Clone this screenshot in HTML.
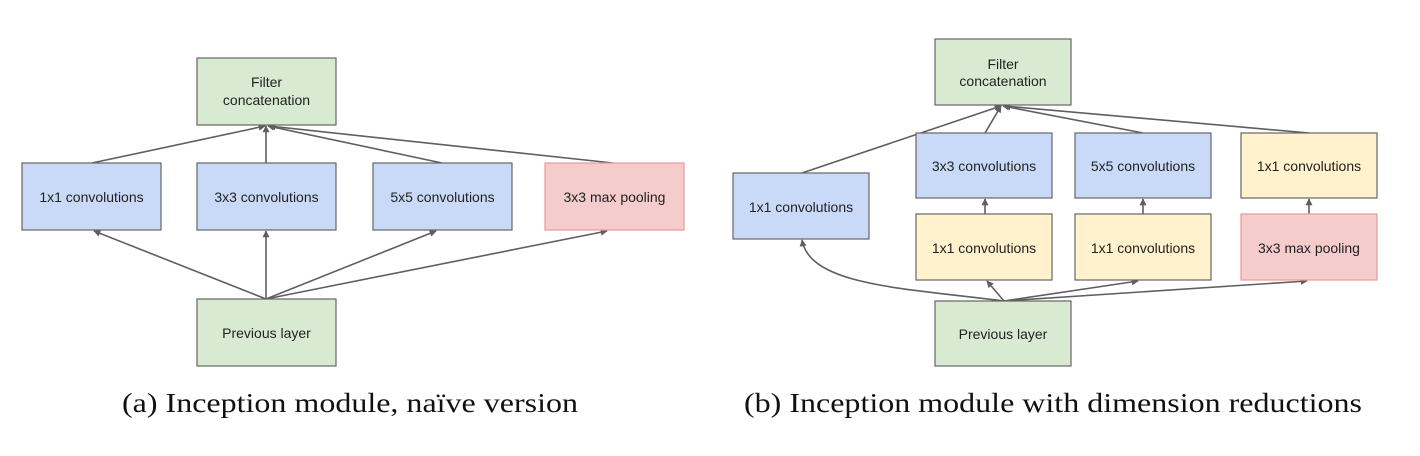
<!DOCTYPE html>
<html><head><meta charset="utf-8"><style>
html,body{margin:0;padding:0;background:#fff;}
svg{display:block;}
.box text{font-family:"Liberation Sans",sans-serif;font-size:14px;fill:#222;text-anchor:middle;}
.ln{stroke:#5f5f5f;stroke-width:1.6;fill:none;}
.cap{font-family:"Liberation Serif",serif;font-size:27px;fill:#111;text-anchor:middle;}
</style></head><body>
<svg width="1420" height="456" viewBox="0 0 1420 456">
<defs>
<marker id="ah" viewBox="0 0 10 10" refX="9" refY="5" markerWidth="7" markerHeight="7" orient="auto-start-reverse" markerUnits="userSpaceOnUse"><path d="M0,0 L10,5 L0,10 z" fill="#5f5f5f"/></marker>
</defs>
<g>
<g>
<line class="ln" x1="92" y1="163" x2="265" y2="126" marker-end="url(#ah)"/>
<line class="ln" x1="266" y1="163" x2="266" y2="126" marker-end="url(#ah)"/>
<line class="ln" x1="442" y1="163" x2="268" y2="126" marker-end="url(#ah)"/>
<line class="ln" x1="613" y1="163" x2="269" y2="126" marker-end="url(#ah)"/>
<line class="ln" x1="266" y1="299" x2="94" y2="231" marker-end="url(#ah)"/>
<line class="ln" x1="266" y1="299" x2="266" y2="231" marker-end="url(#ah)"/>
<line class="ln" x1="266" y1="299" x2="436" y2="231" marker-end="url(#ah)"/>
<line class="ln" x1="266" y1="299" x2="607" y2="231" marker-end="url(#ah)"/>
</g>
<g class="box"><rect x="197" y="58" width="139" height="67" fill="#d9ead3" stroke="#666" stroke-width="1.2"/><text x="266.5" y="87">Filter</text><text x="266.5" y="105">concatenation</text></g>
<g class="box"><rect x="22" y="163" width="139" height="67" fill="#c9daf8" stroke="#666" stroke-width="1.2"/><text x="91.5" y="202">1x1 convolutions</text></g>
<g class="box"><rect x="197" y="163" width="139" height="67" fill="#c9daf8" stroke="#666" stroke-width="1.2"/><text x="266.5" y="202">3x3 convolutions</text></g>
<g class="box"><rect x="373" y="163" width="139" height="67" fill="#c9daf8" stroke="#666" stroke-width="1.2"/><text x="442.5" y="202">5x5 convolutions</text></g>
<g class="box"><rect x="545" y="163" width="139" height="67" fill="#f4cccc" stroke="#ea9999" stroke-width="1.2"/><text x="614.5" y="202">3x3 max pooling</text></g>
<g class="box"><rect x="197" y="299" width="139" height="67" fill="#d9ead3" stroke="#666" stroke-width="1.2"/><text x="266.5" y="338">Previous layer</text></g>
</g>
<g>
<g>
<line class="ln" x1="802" y1="173" x2="1001" y2="106" marker-end="url(#ah)"/>
<line class="ln" x1="985" y1="133" x2="1001" y2="106" marker-end="url(#ah)"/>
<line class="ln" x1="1143" y1="133" x2="1003" y2="106" marker-end="url(#ah)"/>
<line class="ln" x1="1309" y1="133" x2="1004" y2="106" marker-end="url(#ah)"/>
<line class="ln" x1="985" y1="214" x2="985" y2="199" marker-end="url(#ah)"/>
<line class="ln" x1="1143" y1="214" x2="1143" y2="199" marker-end="url(#ah)"/>
<line class="ln" x1="1309" y1="214" x2="1309" y2="199" marker-end="url(#ah)"/>
<path class="ln" d="M1004,301 C900,288 810,285 802,240" marker-end="url(#ah)"/>
<line class="ln" x1="1004" y1="301" x2="987" y2="281" marker-end="url(#ah)"/>
<line class="ln" x1="1004" y1="301" x2="1138" y2="281" marker-end="url(#ah)"/>
<line class="ln" x1="1004" y1="301" x2="1307" y2="281" marker-end="url(#ah)"/>
</g>
<g class="box"><rect x="935" y="39" width="136" height="66" fill="#d9ead3" stroke="#666" stroke-width="1.2"/><text x="1003" y="69">Filter</text><text x="1003" y="86">concatenation</text></g>
<g class="box"><rect x="733" y="173" width="136" height="66" fill="#c9daf8" stroke="#666" stroke-width="1.2"/><text x="801" y="212">1x1 convolutions</text></g>
<g class="box"><rect x="916" y="133" width="136" height="65" fill="#c9daf8" stroke="#666" stroke-width="1.2"/><text x="984" y="171">3x3 convolutions</text></g>
<g class="box"><rect x="1075" y="133" width="136" height="65" fill="#c9daf8" stroke="#666" stroke-width="1.2"/><text x="1143" y="171">5x5 convolutions</text></g>
<g class="box"><rect x="1241" y="133" width="136" height="65" fill="#fff2cc" stroke="#666" stroke-width="1.2"/><text x="1309" y="171">1x1 convolutions</text></g>
<g class="box"><rect x="916" y="214" width="136" height="66" fill="#fff2cc" stroke="#666" stroke-width="1.2"/><text x="984" y="253">1x1 convolutions</text></g>
<g class="box"><rect x="1075" y="214" width="136" height="66" fill="#fff2cc" stroke="#666" stroke-width="1.2"/><text x="1143" y="253">1x1 convolutions</text></g>
<g class="box"><rect x="1241" y="214" width="136" height="66" fill="#f4cccc" stroke="#ea9999" stroke-width="1.2"/><text x="1309" y="253">3x3 max pooling</text></g>
<g class="box"><rect x="935" y="301" width="136" height="65" fill="#d9ead3" stroke="#666" stroke-width="1.2"/><text x="1003" y="339">Previous layer</text></g>
</g>
<text class="cap" x="350" y="412" textLength="456" lengthAdjust="spacingAndGlyphs">(a)  Inception module, naïve version</text>
<text class="cap" x="1053" y="412" textLength="618" lengthAdjust="spacingAndGlyphs">(b)  Inception module with dimension reductions</text>
</svg>
</body></html>
